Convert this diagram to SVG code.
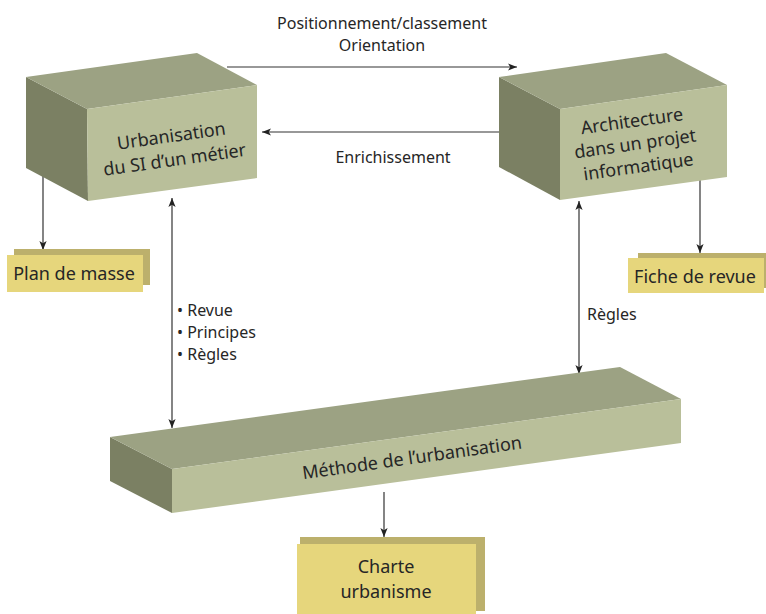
<svg xmlns="http://www.w3.org/2000/svg" width="766" height="614" viewBox="0 0 766 614">
<defs>
<style>
.top{fill:#9ca283}
.front{fill:#b9bf9a}
.side{fill:#7b8063}
.shadow{fill:#bcb06c}
.card{fill:#e6d67c}
text{font-family:"Noto Sans","Open Sans","DejaVu Sans",sans-serif;fill:#262626}
.lbl{font-size:16px}
.box{font-size:18px}
.con{stroke:#333;stroke-width:1.2;fill:none}
</style>
<marker id="ah" viewBox="0 0 10 10" refX="10" refY="5" markerWidth="9" markerHeight="9" markerUnits="userSpaceOnUse" orient="auto-start-reverse">
<path d="M0,1 L10,5 L0,9 L2.5,5 Z" fill="#222"/>
</marker>
</defs>
<rect width="766" height="614" fill="#fff"/>

<g id="connectors">
<line class="con" x1="227" y1="67" x2="517" y2="67" marker-end="url(#ah)"/>
<line class="con" x1="500" y1="132" x2="262" y2="132" marker-end="url(#ah)"/>
<line class="con" x1="43" y1="173" x2="43" y2="250" marker-end="url(#ah)"/>
<line class="con" x1="700" y1="177" x2="700" y2="253" marker-end="url(#ah)"/>
<line class="con" x1="172" y1="198" x2="172" y2="428" marker-start="url(#ah)" marker-end="url(#ah)"/>
<line class="con" x1="579" y1="201" x2="579" y2="374" marker-start="url(#ah)" marker-end="url(#ah)"/>
<line class="con" x1="384" y1="492" x2="384" y2="537" marker-end="url(#ah)"/>
<text class="lbl" x="382" y="29" text-anchor="middle">Positionnement/classement</text>
<text class="lbl" x="382" y="51" text-anchor="middle">Orientation</text>
<text class="lbl" x="393" y="163" text-anchor="middle">Enrichissement</text>
<text class="lbl" x="177" y="316">• Revue</text>
<text class="lbl" x="177" y="338">• Principes</text>
<text class="lbl" x="177" y="360">• Règles</text>
<text class="lbl" x="587" y="320">Règles</text>
</g>

<g id="urbanisation">
<polygon class="side" points="26,77 87,109 88,201 26,168"/>
<polygon class="top" points="26,77 197,53 257,85 87,109"/>
<polygon class="front" points="87,109 257,85 257,178 88,201"/>
<text class="box" text-anchor="middle" transform="rotate(-8 173 148)"><tspan x="173" y="142">Urbanisation</tspan><tspan x="173" y="166">du SI d’un métier</tspan></text>
</g>

<g id="architecture">
<polygon class="side" points="499,77 560,109 560,200 499,167"/>
<polygon class="top" points="499,77 666,53 727,85 560,109"/>
<polygon class="front" points="560,109 727,85 727,177 560,200"/>
<text class="box" text-anchor="middle" transform="rotate(-8 635 143)"><tspan x="635" y="127">Architecture</tspan><tspan x="635" y="150">dans un projet</tspan><tspan x="635" y="173">informatique</tspan></text>
</g>

<g id="methode">
<polygon class="side" points="110,437 172,469 172,513 110,481"/>
<polygon class="top" points="110,437 620,367 681,399 172,469"/>
<polygon class="front" points="172,469 681,399 681,443 172,513"/>
<text class="box" text-anchor="middle" x="412" y="464" transform="rotate(-8 412 458)">Méthode de l’urbanisation</text>
</g>

<g id="plan">
<rect class="shadow" x="14" y="249" width="136" height="36"/>
<rect class="card" x="7" y="255" width="136" height="37"/>
<text class="box" x="74" y="280" text-anchor="middle">Plan de masse</text>
</g>

<g id="fiche">
<rect class="shadow" x="638" y="253" width="128" height="35"/>
<rect class="card" x="628" y="258" width="136" height="35"/>
<text class="box" x="695" y="283" text-anchor="middle">Fiche de revue</text>
</g>

<g id="charte">
<rect class="shadow" x="300" y="537" width="185" height="74"/>
<rect class="card" x="297" y="544" width="179" height="70"/>
<text class="box" text-anchor="middle"><tspan x="386" y="573">Charte</tspan><tspan x="386" y="598">urbanisme</tspan></text>
</g>
</svg>
